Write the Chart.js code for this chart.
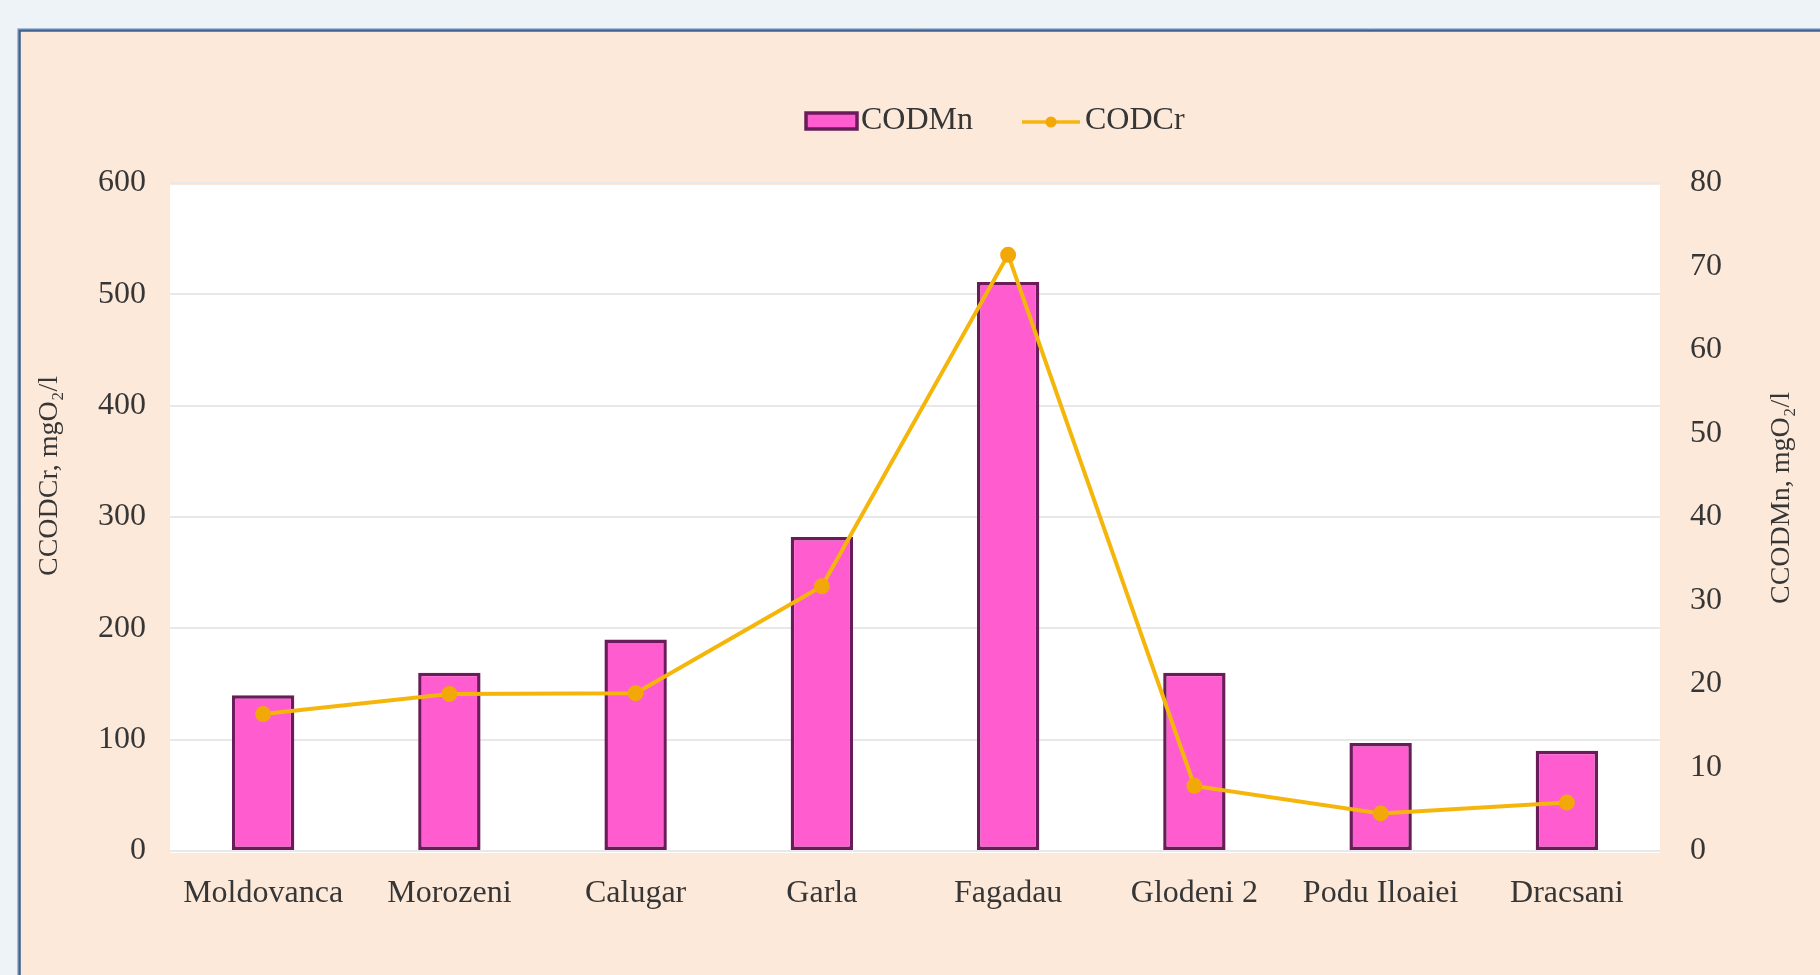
<!DOCTYPE html>
<html>
<head>
<meta charset="utf-8">
<script src="https://cdn.jsdelivr.net/npm/chart.js@4.4.1/dist/chart.umd.min.js"></script>
<style>
  html, body { margin: 0; padding: 0; background: #eef3f8; overflow: hidden; }
  canvas { display: block; }
</style>
</head>
<body>
<canvas id="codChart" width="1820" height="975"></canvas>
<script>
// Sampling stations along the x axis
const stations = ['Moldovanca', 'Morozeni', 'Calugar', 'Garla', 'Fagadau', 'Glodeni 2', 'Podu Iloaiei', 'Dracsani'];
// Bar series (left axis)
const codMn = [140, 160, 190, 282, 511, 160, 97, 90];
// Line series (right axis)
const codCr = [16.4, 18.8, 18.9, 31.7, 71.4, 7.8, 4.5, 5.8];
// Axis titles and legend labels
const leftAxisTitle = 'CCODCr, mgO₂/l';
const rightAxisTitle = 'CCODMn, mgO₂/l';
const barLabel = 'CODMn';
const lineLabel = 'CODCr';

const SERIF = '"Liberation Serif", "Times New Roman", serif';
const TEXT = '#363636';
const BAR_FILL = '#ff5ccf';
const BAR_EDGE = '#6a1c5a';
const LINE_COL = '#f5b60c';
const POINT_COL = '#f3a80a';

// Page backdrop: pale blue page, framed peach panel, white plot area
const backdrop = {
  id: 'backdrop',
  beforeDraw(chart) {
    const { ctx, chartArea: a, width, height } = chart;
    ctx.save();
    ctx.fillStyle = '#eef3f8';
    ctx.fillRect(0, 0, width, height);
    ctx.fillStyle = '#fde9d9';
    ctx.fillRect(20, 31, width, height);
    ctx.strokeStyle = '#a9bdd6';
    ctx.lineWidth = 1;
    ctx.beginPath();
    ctx.moveTo(17.5, height); ctx.lineTo(17.5, 28.5); ctx.lineTo(width, 28.5);
    ctx.stroke();
    ctx.strokeStyle = '#3e6190';
    ctx.lineWidth = 2.5;
    ctx.beginPath();
    ctx.moveTo(19.5, height); ctx.lineTo(19.5, 30.5); ctx.lineTo(width, 30.5);
    ctx.stroke();
    ctx.fillStyle = '#ffffff';
    ctx.fillRect(a.left, a.top + 2, a.right - a.left, a.bottom - a.top);
    ctx.restore();
  }
};

// Legend and rotated axis titles
const annotations = {
  id: 'annotations',
  afterDraw(chart) {
    const { ctx } = chart;
    ctx.save();
    // legend
    const ly = 121;
    ctx.fillStyle = BAR_FILL;
    ctx.strokeStyle = BAR_EDGE;
    ctx.lineWidth = 3.5;
    ctx.fillRect(806, 113, 51, 16);
    ctx.strokeRect(806, 113, 51, 16);
    ctx.font = '32px ' + SERIF;
    ctx.fillStyle = TEXT;
    ctx.textBaseline = 'middle';
    ctx.textAlign = 'left';
    ctx.fillText(barLabel, 861, ly);
    ctx.strokeStyle = LINE_COL;
    ctx.lineWidth = 3.5;
    ctx.beginPath();
    ctx.moveTo(1022, ly + 1); ctx.lineTo(1080, ly + 1);
    ctx.stroke();
    ctx.fillStyle = POINT_COL;
    ctx.beginPath();
    ctx.arc(1051, ly + 1, 5.5, 0, Math.PI * 2);
    ctx.fill();
    ctx.fillStyle = TEXT;
    ctx.fillText(lineLabel, 1085, ly);
    // axis titles
    ctx.font = '28px ' + SERIF;
    ctx.textAlign = 'center';
    ctx.save();
    ctx.translate(50, 476);
    ctx.rotate(-Math.PI / 2);
    ctx.fillText(leftAxisTitle, 0, 0);
    ctx.restore();
    ctx.save();
    ctx.translate(1782, 498);
    ctx.rotate(-Math.PI / 2);
    ctx.fillText(rightAxisTitle, 0, 0);
    ctx.restore();
    ctx.restore();
  }
};

new Chart(document.getElementById('codChart'), {
  data: {
    labels: stations,
    datasets: [
      {
        type: 'line',
        label: lineLabel,
        data: codCr,
        yAxisID: 'y1',
        order: 1,
        borderColor: LINE_COL,
        borderWidth: 4,
        pointRadius: 6,
        pointBackgroundColor: POINT_COL,
        pointBorderColor: POINT_COL,
        tension: 0
      },
      {
        type: 'bar',
        label: barLabel,
        data: codMn,
        yAxisID: 'y',
        order: 2,
        backgroundColor: BAR_FILL,
        borderColor: BAR_EDGE,
        borderWidth: 3.5,
        borderSkipped: false,
        categoryPercentage: 1,
        barPercentage: 0.335
      }
    ]
  },
  options: {
    responsive: false,
    animation: false,
    layout: { padding: { top: 183, left: 0, right: 0, bottom: 0 } },
    plugins: { legend: { display: false }, title: { display: false }, tooltip: { enabled: false } },
    scales: {
      x: {
        offset: true,
        grid: { display: false },
        border: { display: false },
        ticks: { color: TEXT, font: { family: SERIF, size: 32 }, padding: 15, maxRotation: 0, autoSkip: false },
        afterFit(s) { s.height = 124; }
      },
      y: {
        position: 'left',
        min: 0, max: 600,
        ticks: { stepSize: 100, color: TEXT, font: { family: SERIF, size: 32 }, padding: 24 },
        grid: { color: '#e8e8e8', lineWidth: 2, drawTicks: false },
        border: { display: false },
        afterFit(s) { s.width = 170; }
      },
      y1: {
        position: 'right',
        min: 0, max: 80,
        ticks: { stepSize: 10, color: TEXT, font: { family: SERIF, size: 32 }, padding: 30 },
        grid: { display: false, drawTicks: false },
        border: { display: false },
        afterFit(s) { s.width = 160; }
      }
    }
  },
  plugins: [backdrop, annotations]
});
</script>
</body>
</html>
